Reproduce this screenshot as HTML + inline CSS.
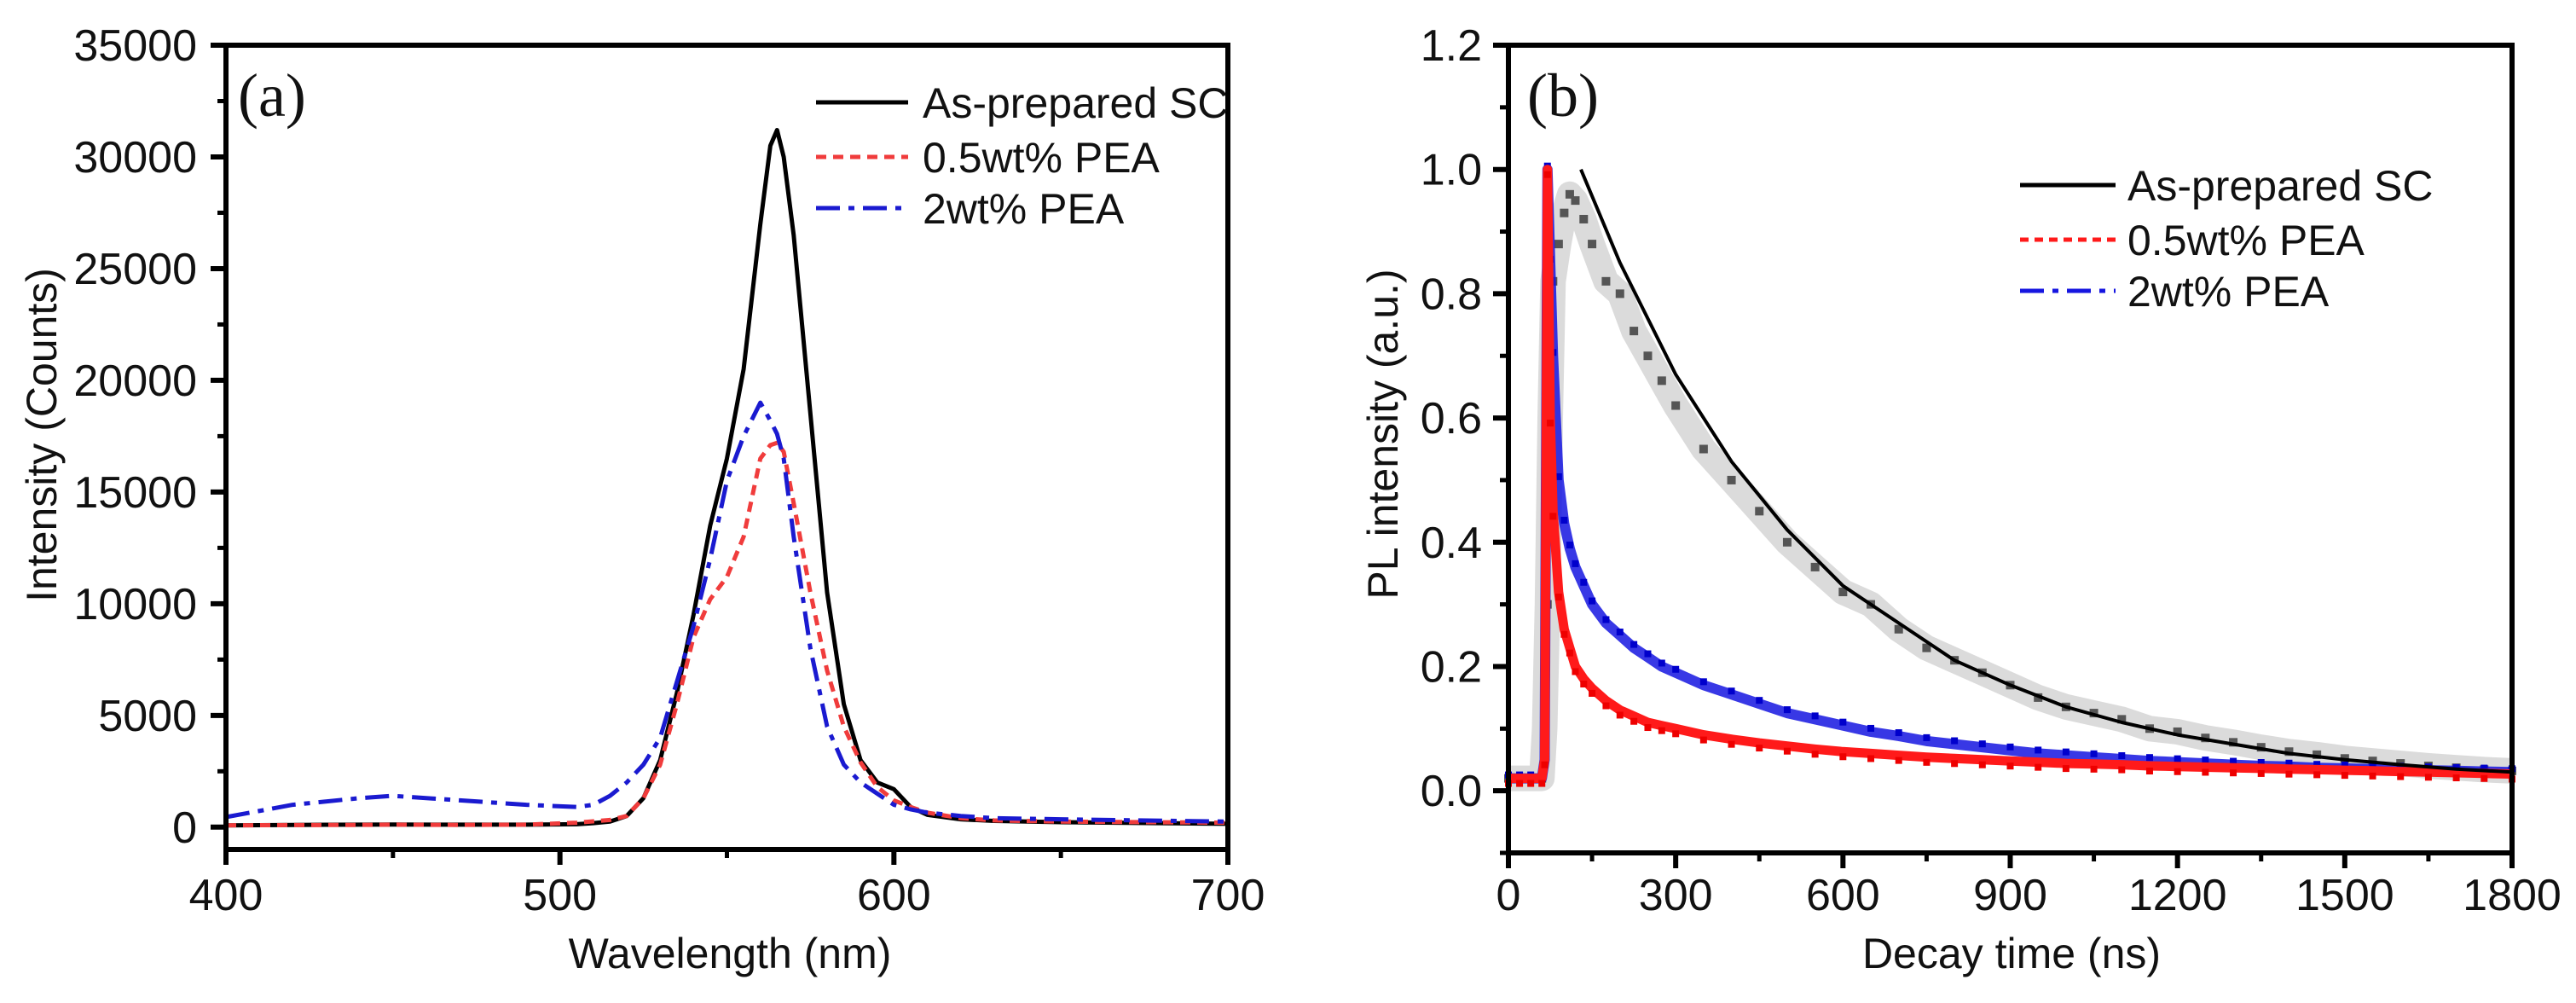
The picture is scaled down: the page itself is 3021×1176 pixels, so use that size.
<!DOCTYPE html>
<html><head><meta charset="utf-8"><style>
html,body{margin:0;padding:0;background:#fff;}
svg{display:block;}
text{font-family:"Liberation Sans",Arial,sans-serif;fill:#111;}
.serif{font-family:"Liberation Serif",serif;}
</style></head><body>
<svg id="fig" width="3021" height="1176" viewBox="0 0 3021 1176" xmlns="http://www.w3.org/2000/svg">
<g id="pa"></g>
<g id="pb"></g>
</svg>
<script>
// Panel (a) data
const aWl = [400,420,440,450,470,490,505,510,515,520,525,530,535,540,545,550,555,560,563,565,567,570,575,580,585,590,595,600,605,610,620,630,650,700];
const aBlack = [80,100,110,120,110,110,130,180,250,500,1300,3000,6000,9500,13500,16500,20500,27000,30500,31200,30000,26500,18500,10500,5500,3000,2000,1700,900,550,350,280,220,150];
const aRed = [80,90,100,110,100,110,200,260,320,500,1300,2800,5500,8500,10200,11200,13000,16500,17100,17200,16800,14500,10500,7000,4500,2900,1800,1200,900,650,400,300,250,200];
const aBlue = [450,1000,1300,1400,1200,1000,900,1000,1400,2000,2800,4000,6500,9000,12000,15500,17500,19000,18200,17600,16500,13000,8000,4500,2800,2000,1500,1000,800,650,500,400,350,250];
const aYTicks = [0,5000,10000,15000,20000,25000,30000,35000];
const aXTicks = [400,500,600,700];
// Panel (b) data
const bT = [0,20,40,60,65,70,75,80,90,100,110,120,135,150,175,200,225,250,275,300,350,400,450,500,550,600,650,700,750,800,850,900,950,1000,1050,1100,1150,1200,1250,1300,1350,1400,1450,1500,1550,1600,1650,1700,1750,1800];
const bRed = [0.02,0.02,0.02,0.02,0.05,1.0,0.6,0.45,0.32,0.26,0.23,0.2,0.18,0.165,0.145,0.13,0.12,0.11,0.105,0.1,0.09,0.083,0.077,0.072,0.067,0.063,0.06,0.057,0.054,0.052,0.05,0.048,0.046,0.044,0.043,0.042,0.04,0.039,0.038,0.037,0.036,0.035,0.034,0.033,0.032,0.031,0.03,0.029,0.028,0.027];
const bBlue = [0.02,0.02,0.02,0.02,0.05,1.0,0.85,0.7,0.5,0.43,0.39,0.36,0.33,0.3,0.27,0.25,0.23,0.215,0.2,0.19,0.17,0.155,0.14,0.125,0.115,0.105,0.095,0.088,0.08,0.075,0.07,0.065,0.06,0.057,0.054,0.051,0.048,0.046,0.044,0.042,0.04,0.039,0.037,0.036,0.035,0.034,0.033,0.032,0.031,0.03];
const bGray = [0.02,0.02,0.02,0.02,0.1,0.3,0.6,0.82,0.88,0.93,0.96,0.95,0.92,0.88,0.82,0.8,0.74,0.7,0.66,0.62,0.55,0.5,0.45,0.4,0.36,0.32,0.3,0.26,0.23,0.21,0.19,0.17,0.15,0.135,0.125,0.115,0.1,0.095,0.085,0.078,0.07,0.063,0.058,0.052,0.048,0.044,0.04,0.037,0.034,0.032];
const fitT = [130,200,300,400,500,600,700,800,900,1000,1100,1200,1300,1400,1500,1600,1700,1800];
const fitV = [1.0,0.85,0.67,0.53,0.42,0.33,0.27,0.21,0.17,0.135,0.11,0.09,0.075,0.06,0.05,0.042,0.035,0.03];
const bYTicks = [0.0,0.2,0.4,0.6,0.8,1.0,1.2];
const bXTicks = [0,300,600,900,1200,1500,1800];

const NS = "http://www.w3.org/2000/svg";
function mk(parent, tag, attrs, txt){
  const e = document.createElementNS(NS, tag);
  for (const k in attrs) e.setAttribute(k, attrs[k]);
  if (txt !== undefined) e.textContent = txt;
  parent.appendChild(e);
  return e;
}
function poly(parent, xs, ys, fx, fy, color, w, dash, name){
  const pts = xs.map((x,i)=>fx(x).toFixed(1)+','+fy(ys[i]).toFixed(1)).join(' ');
  const p = mk(parent,'polyline',{points:pts,fill:'none',stroke:color,'stroke-width':w,'stroke-linejoin':'round'});
  if (dash) p.setAttribute('stroke-dasharray',dash);
  
  
  return p;
}

// ---------- Panel A ----------
const A = {L:265,R:1440,T:53,B:996,x0:400,x1:700,y0:-1000,y1:35000};
const ax = v => A.L + (v-A.x0)/(A.x1-A.x0)*(A.R-A.L);
const ay = v => A.B - (v-A.y0)/(A.y1-A.y0)*(A.B-A.T);
const pa = document.getElementById('pa');

poly(pa, aWl, aBlack, ax, ay, '#000', 5, null, 'series-as-prepared-sc');
poly(pa, aWl, aRed, ax, ay, '#f03c3c', 5, '12,8', 'series-0.5wt-pea');
poly(pa, aWl, aBlue, ax, ay, '#1a1ad0', 5, '28,10,7,10', 'series-2wt-pea');

const boxA = mk(pa,'rect',{x:A.L,y:A.T,width:A.R-A.L,height:A.B-A.T,fill:'none',stroke:'#000','stroke-width':6});


aYTicks.forEach(v=>{
  const y = ay(v);
  const t = mk(pa,'line',{x1:A.L-18,x2:A.L,y1:y,y2:y,stroke:'#000','stroke-width':6});
  
  
  const l = mk(pa,'text',{x:231,y:y+18,'text-anchor':'end','font-size':52},String(v));
  
  
  if (v+2500 < A.y1) {
    const m = mk(pa,'line',{x1:A.L-10,x2:A.L,y1:ay(v+2500),y2:ay(v+2500),stroke:'#000','stroke-width':5});
    
    
  }
});
aXTicks.forEach(v=>{
  const x = ax(v);
  const t = mk(pa,'line',{x1:x,x2:x,y1:A.B,y2:A.B+18,stroke:'#000','stroke-width':6});
  
  
  const l = mk(pa,'text',{x:x,y:1067,'text-anchor':'middle','font-size':52},String(v));
  
  
  if (v+50 < A.x1) {
    const m = mk(pa,'line',{x1:ax(v+50),x2:ax(v+50),y1:A.B,y2:A.B+10,stroke:'#000','stroke-width':5});
    
    
  }
});
(function(){
  const t1 = mk(pa,'text',{x:856,y:1135,'text-anchor':'middle','font-size':50},'Wavelength (nm)');
  
  
  const t2 = mk(pa,'text',{x:66,y:510,'text-anchor':'middle','font-size':50,transform:'rotate(-90 66 510)'},'Intensity (Counts)');
  
  
  const t3 = mk(pa,'text',{x:279,y:136,'font-size':72,class:'serif'},'(a)');
  
  
  const leg = [['As-prepared SC','#000',null,120],['0.5wt% PEA','#f03c3c','12,8',184],['2wt% PEA','#1a1ad0','28,10,7,10',244]];
  leg.forEach(r=>{
    const ln = mk(pa,'line',{x1:957,x2:1065,y1:r[3],y2:r[3],stroke:r[1],'stroke-width':5});
    if (r[2]) ln.setAttribute('stroke-dasharray',r[2]);
    
    
    const tx = mk(pa,'text',{x:1082,y:r[3]+18,'font-size':50},r[0]);
    
    
  });
})();

// ---------- Panel B ----------
const Bx = {L:1769,R:2946,T:53,B:1000,x0:0,x1:1800,y0:-0.1,y1:1.2};
const bx = v => Bx.L + (v-Bx.x0)/(Bx.x1-Bx.x0)*(Bx.R-Bx.L);
const by = v => Bx.B - (v-Bx.y0)/(Bx.y1-Bx.y0)*(Bx.B-Bx.T);
const pb = document.getElementById('pb');

const gb = poly(pb, bT, bGray, bx, by, '#888', 30, null, 'as-prepared-data-band');
gb.setAttribute('opacity','0.3');
bT.forEach((t,i)=>{
  const r = mk(pb,'rect',{x:bx(t)-5,y:by(bGray[i])-5,width:10,height:10,fill:'#555'});
  
  
});
const bb = poly(pb, bT, bBlue, bx, by, '#1515e0', 12, null, 'series-2wt-pea-data');
bb.setAttribute('opacity','0.85');
bT.forEach((t,i)=>{
  const r = mk(pb,'rect',{x:bx(t)-4,y:by(bBlue[i])-8,width:8,height:8,fill:'#0000cc'});
  
  
});
const rb = poly(pb, bT, bRed, bx, by, '#ff1a1a', 11, null, 'series-0.5wt-pea-data');
bT.forEach((t,i)=>{
  const r = mk(pb,'rect',{x:bx(t)-4,y:by(bRed[i])+2,width:8,height:8,fill:'#ee0000'});
  
  
});
poly(pb, fitT, fitV, bx, by, '#000', 4, null, 'as-prepared-fit-line');

const boxB = mk(pb,'rect',{x:Bx.L,y:Bx.T,width:Bx.R-Bx.L,height:Bx.B-Bx.T,fill:'none',stroke:'#000','stroke-width':6});


bYTicks.forEach(v=>{
  const y = by(v);
  const t = mk(pb,'line',{x1:Bx.L-18,x2:Bx.L,y1:y,y2:y,stroke:'#000','stroke-width':6});
  
  
  const l = mk(pb,'text',{x:1738,y:y+18,'text-anchor':'end','font-size':52},v.toFixed(1));
  
  
  const m = v-0.1;
  if (m > Bx.y0-0.001) {
    const mt = mk(pb,'line',{x1:Bx.L-10,x2:Bx.L,y1:by(m),y2:by(m),stroke:'#000','stroke-width':5});
    
    
  }
});
bXTicks.forEach(v=>{
  const x = bx(v);
  const t = mk(pb,'line',{x1:x,x2:x,y1:Bx.B,y2:Bx.B+18,stroke:'#000','stroke-width':6});
  
  
  const l = mk(pb,'text',{x:x,y:1067,'text-anchor':'middle','font-size':52},String(v));
  
  
  if (v+150 < Bx.x1) {
    const m = mk(pb,'line',{x1:bx(v+150),x2:bx(v+150),y1:Bx.B,y2:Bx.B+10,stroke:'#000','stroke-width':5});
    
    
  }
});
(function(){
  const t1 = mk(pb,'text',{x:2359,y:1135,'text-anchor':'middle','font-size':50},'Decay time (ns)');
  
  
  const t2 = mk(pb,'text',{x:1639,y:509,'text-anchor':'middle','font-size':50,transform:'rotate(-90 1639 509)'},'PL intensity (a.u.)');
  
  
  const t3 = mk(pb,'text',{x:1791,y:136,'font-size':72,class:'serif'},'(b)');
  
  
  const leg = [['As-prepared SC','#000',null,217],['0.5wt% PEA','#ff1a1a','10,7',281],['2wt% PEA','#1515e0','28,10,7,10',341]];
  leg.forEach(r=>{
    const ln = mk(pb,'line',{x1:2369,x2:2481,y1:r[3],y2:r[3],stroke:r[1],'stroke-width':5});
    if (r[2]) ln.setAttribute('stroke-dasharray',r[2]);
    
    
    const tx = mk(pb,'text',{x:2495,y:r[3]+18,'font-size':50},r[0]);
    
    
  });
})();
</script>
</body></html>
